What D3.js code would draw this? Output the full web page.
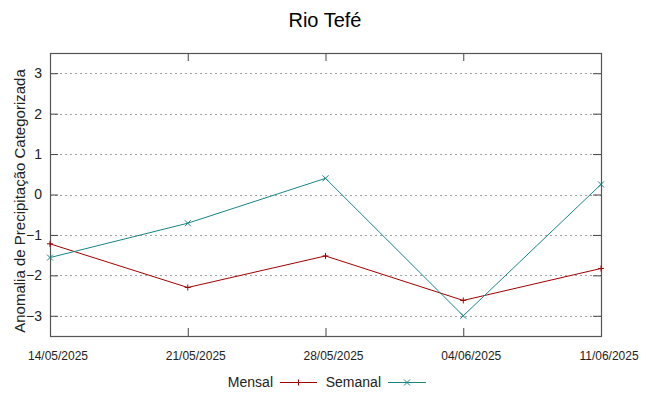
<!DOCTYPE html>
<html>
<head>
<meta charset="utf-8">
<script src="https://cdn.jsdelivr.net/npm/d3@7"></script>
<style>
  body { margin: 0; background: #fff; }
  svg { font-family: 'Liberation Sans', Arial, sans-serif; }
</style>
</head>
<body>
<div id="wrapper"></div>
<script>
const dates = ['14/05/2025', '21/05/2025', '28/05/2025', '04/06/2025', '11/06/2025']
const mensal = [-1.22, -2.30, -1.52, -2.62, -1.83]
const semanal = [-1.56, -0.71, 0.40, -3.00, 0.25]
const yTicks = [3, 2, 1, 0, -1, -2, -3]

const dimensions = {
  width: 649,
  height: 396,
  margin: { top: 53, right: 48, bottom: 60, left: 50 },
}
dimensions.boundedWidth = dimensions.width - dimensions.margin.left - dimensions.margin.right
dimensions.boundedHeight = dimensions.height - dimensions.margin.top - dimensions.margin.bottom

const parseDate = d3.timeParse('%d/%m/%Y')
const xAccessor = (d, i) => parseDate(dates[i])

const xScale = d3
  .scaleTime()
  .domain(d3.extent(dates, (d) => parseDate(d)))
  .range([0, dimensions.boundedWidth])

const yScale = d3
  .scaleLinear()
  .domain([-3.5, 3.5])
  .range([dimensions.boundedHeight, 0])

const svg = d3
  .select('#wrapper')
  .append('svg')
  .attr('width', dimensions.width)
  .attr('height', dimensions.height)

// title
svg
  .append('text')
  .attr('x', 325)
  .attr('y', 27)
  .attr('text-anchor', 'middle')
  .attr('font-size', '20px')
  .attr('fill', '#000')
  .text('Rio Tefé')

const bounds = svg
  .append('g')
  .attr('transform', `translate(${dimensions.margin.left}, ${dimensions.margin.top})`)

// horizontal dashed grid
bounds
  .append('g')
  .selectAll('line')
  .data(yTicks)
  .join('line')
  .attr('x1', 0)
  .attr('x2', dimensions.boundedWidth)
  .attr('y1', (d) => Math.round(yScale(d)) + 0.5)
  .attr('y2', (d) => Math.round(yScale(d)) + 0.5)
  .attr('stroke', '#a0a0a0')
  .attr('stroke-width', 1)
  .attr('stroke-dasharray', '2,3')

// y axis (left + right mirror)
const yAxisLeft = d3.axisLeft(yScale).tickValues(yTicks).tickSize(-8).tickSizeOuter(0).tickPadding(8).tickFormat(d3.format('d'))
const yAxisRight = d3.axisRight(yScale).tickValues(yTicks).tickSize(-8).tickSizeOuter(0).tickFormat('')
const yLeft = bounds.append('g').call(yAxisLeft)
yLeft.selectAll('text').attr('font-size', '14px').attr('fill', '#222').attr('font-family', 'Liberation Sans, Arial, sans-serif')
bounds.append('g').attr('transform', `translate(${dimensions.boundedWidth}, 0)`).call(yAxisRight)

// x axis (bottom + top mirror)
const xTickVals = dates.map((d) => parseDate(d))
const xAxisBottom = d3.axisBottom(xScale).tickValues(xTickVals).tickSize(-8).tickSizeOuter(0).tickPadding(15).tickFormat(d3.timeFormat('%d/%m/%Y'))
const xAxisTop = d3.axisTop(xScale).tickValues(xTickVals).tickSize(-8).tickSizeOuter(0).tickFormat('')
const xB = bounds.append('g').attr('transform', `translate(0, ${dimensions.boundedHeight})`).call(xAxisBottom)
xB.selectAll('text').attr('font-size', '12px').attr('fill', '#222').attr('dx', 7.5).attr('font-family', 'Liberation Sans, Arial, sans-serif')
bounds.append('g').call(xAxisTop)

bounds.selectAll('.domain').remove()
bounds.selectAll('.tick line').attr('stroke', '#444')

// frame
bounds
  .append('rect')
  .attr('x', 0.5)
  .attr('y', 0.5)
  .attr('width', dimensions.boundedWidth)
  .attr('height', dimensions.boundedHeight)
  .attr('fill', 'none')
  .attr('stroke', '#555')
  .attr('stroke-width', 1.2)

// y label
svg
  .append('text')
  .attr('transform', 'translate(25, 201) rotate(-90)')
  .attr('text-anchor', 'middle')
  .attr('font-size', '15px')
  .attr('fill', '#222')
  .text('Anomalia de Precipitação Categorizada')

const series = [
  { name: 'Mensal', values: mensal, color: '#a00000', marker: 'plus' },
  { name: 'Semanal', values: semanal, color: '#1a8585', marker: 'cross' },
]

const line = d3
  .line()
  .x((d, i) => xScale(xAccessor(d, i)))
  .y((d) => yScale(d))

function drawMarker(g, type, x, y, color) {
  const s = 3
  if (type === 'plus') {
    g.append('path').attr('d', `M${x - s},${y}H${x + s}M${x},${y - s}V${y + s}`).attr('stroke', color).attr('fill', 'none')
  } else {
    g.append('path').attr('d', `M${x - s},${y - s}L${x + s},${y + s}M${x - s},${y + s}L${x + s},${y - s}`).attr('stroke', color).attr('fill', 'none')
  }
}

series.forEach((s) => {
  bounds
    .append('path')
    .datum(s.values)
    .attr('d', line)
    .attr('fill', 'none')
    .attr('stroke', s.color)
    .attr('stroke-width', 1)
  const mg = bounds.append('g')
  s.values.forEach((v, i) => drawMarker(mg, s.marker, xScale(xAccessor(v, i)), yScale(v), s.color))
})

// legend
const legend = svg.append('g').attr('transform', 'translate(0, 382)')
const legendItems = [
  { textEnd: 273, x1: 280, x2: 317 },
  { textEnd: 381, x1: 388, x2: 426 },
]
series.forEach((s, i) => {
  const it = legendItems[i]
  legend
    .append('text')
    .attr('x', it.textEnd)
    .attr('y', 5)
    .attr('text-anchor', 'end')
    .attr('font-size', '14px')
    .attr('fill', '#222')
    .text(s.name)
  legend
    .append('line')
    .attr('x1', it.x1)
    .attr('x2', it.x2)
    .attr('y1', 0.5)
    .attr('y2', 0.5)
    .attr('stroke', s.color)
  drawMarker(legend, s.marker, (it.x1 + it.x2) / 2, 0.5, s.color)
})
</script>
</body>
</html>
